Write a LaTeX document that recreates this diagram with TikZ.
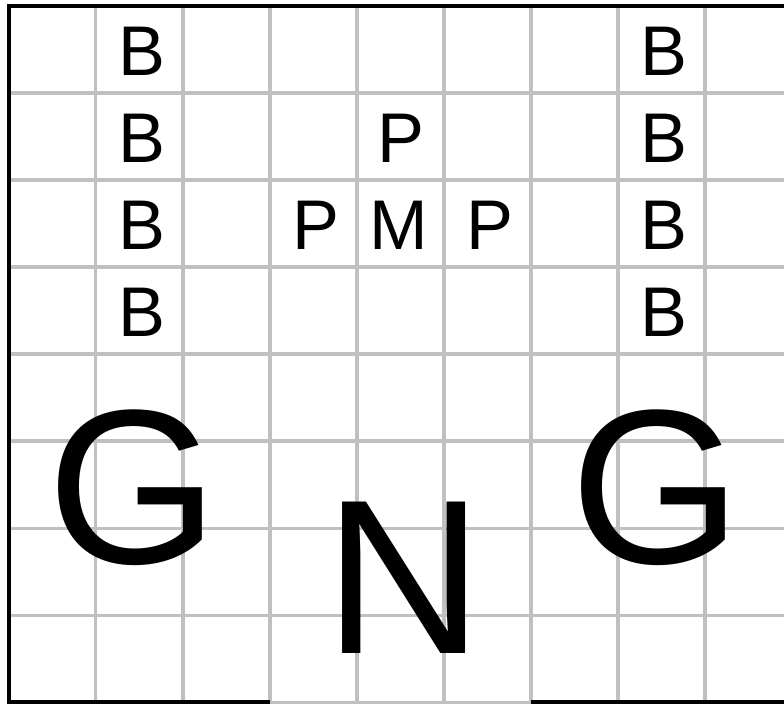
\documentclass[tikz,border=0pt]{standalone}
\usepackage{fontspec}
\setmainfont{Liberation Sans}
\definecolor{rule}{HTML}{C0C0C0}
\tikzset{
  gridline/.style={rule, line width=1pt},
  frame/.style={black, line width=1.6pt},
  piece/.style={anchor=base, inner sep=0pt, font=\fontsize{23}{23}\selectfont},
  bigpiece/.style={anchor=base, inner sep=0pt, font=\fontsize{72}{72}\selectfont},
}

\begin{document}
\begin{tikzpicture}
        \useasboundingbox (-0.103,-0.023) rectangle (8.908,8.069);
        \foreach \x in {1,...,8} \draw[gridline] (\x,0) -- (\x,8);
        \foreach \y in {1,...,7} \draw[gridline] (0,\y) -- (9,\y);
        \draw[gridline] (3,0) -- (6,0);
        \draw[frame] (3,0) -- (0,0) -- (0,8) -- (9,8);
        \draw[frame] (6,0) -- (9,0);
        \foreach \r in {4,...,7} {
          \node[piece] (bl\r) at (1.53,\r+0.2) {B};
          \node[piece] (br\r) at (7.53,\r+0.2) {B};
        }
        \node[piece] (pt) at (4.5,6.2) {P};
        \node[piece] (pl) at (3.53,5.2) {P};
        \node[piece] (m) at (4.48,5.2) {M};
        \node[piece] (pr) at (5.53,5.2) {P};
        \node[bigpiece] (gl) at (1.43,1.59) {G};
        \node[bigpiece] (gr) at (7.44,1.59) {G};
        \node[bigpiece] (n) at (4.54,0.56) {N};
      \end{tikzpicture}
\end{document}
